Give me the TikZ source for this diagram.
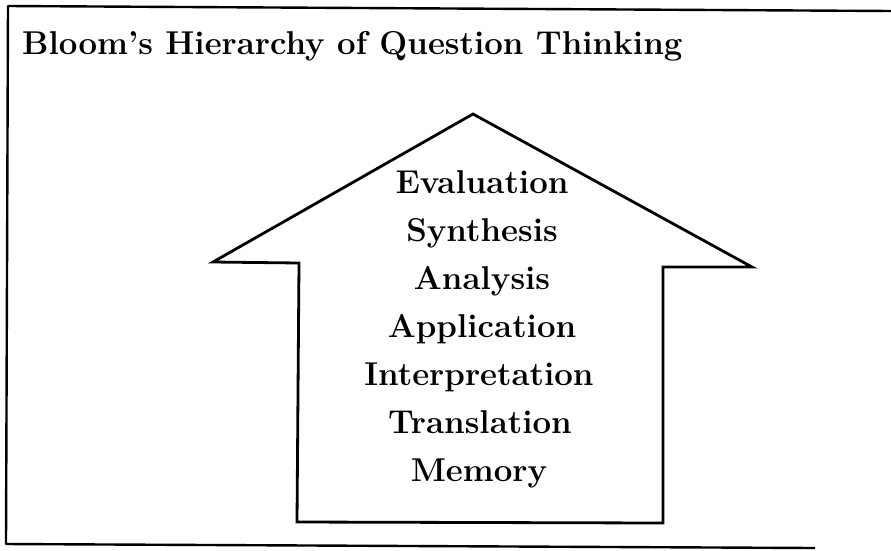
\documentclass[tikz,border=0pt]{standalone}
\begin{document}
\begin{tikzpicture}[x=1pt,y=-1pt,
  frameline/.style={line width=2.4pt,line join=round},
  arrowline/.style={line width=2.8pt,line join=miter},
  level/.style={font=\fontsize{33}{33}\selectfont\bfseries,anchor=base,inner sep=0pt},
  titletext/.style={font=\fontsize{33}{33}\selectfont\bfseries,anchor=base west,inner sep=0pt}]
\useasboundingbox (0,0) rectangle (891,550);
% frame
\draw[frameline] (891,11) -- (8,6) -- (6,544) -- (815,548);
% title
\node[titletext] (title) at (22,54) {Bloom's Hierarchy of Question Thinking};
% arrow
\draw[arrowline] (473,114) -- (752,267) -- (663,267) -- (663,523) -- (297,522) -- (299,263) -- (213,262) -- cycle;
% levels
\node[level] (e) at (482,193) {Evaluation};
\node[level] (s) at (482,241) {Synthesis};
\node[level] (an) at (482,289) {Analysis};
\node[level] (ap) at (482,337) {Application};
\node[level] (i) at (479,385) {Interpretation};
\node[level] (t) at (480,433) {Translation};
\node[level] (m) at (479,481) {Memory};
\end{tikzpicture}
\end{document}
